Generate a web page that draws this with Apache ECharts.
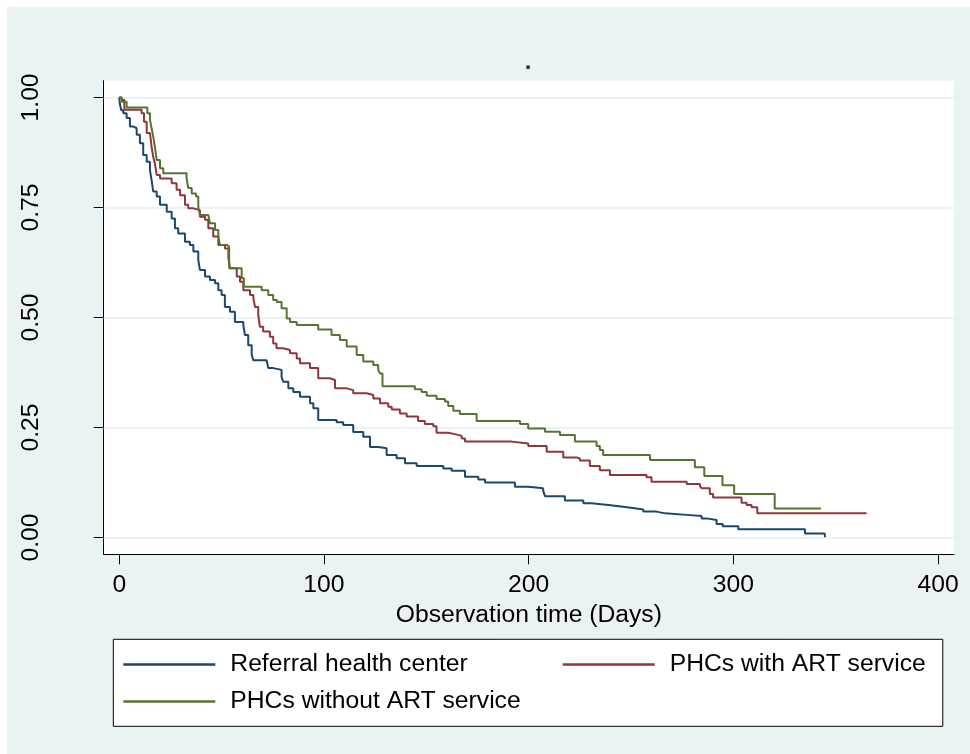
<!DOCTYPE html>
<html>
<head>
<meta charset="utf-8">
<script src="https://cdn.jsdelivr.net/npm/echarts@6/dist/echarts.min.js"></script>
<style>
html,body{margin:0;padding:0;background:#fff;}
#chart{width:970px;height:754px;}
</style>
</head>
<body>
<div id="chart"></div>
<script>
// ---- data (Kaplan-Meier step points: time in days, survival) ----
const seriesNames = ["Referral health center", "PHCs with ART service", "PHCs without ART service"];

const referralT = [0,0.3,1,2,3.6,5.2,6.8,8.5,10.1,11.7,13.4,15,15.8,16.6,18.3,19.9,23.2,25.6,27.2,28.8,32.1,34.5,36.2,38.6,39.4,41.9,44.3,46.8,48.4,50,51.6,54.1,56.5,60.6,61.4,63,64.7,65.5,72,72.8,75.2,79.3,80.1,82.6,85,88.3,93.2,94.8,97.2,106.2,109.4,114.3,119.2,122.5,126.5,130.6,135.5,139.6,145.3,158.3,162.4,168.9,175.4,178.7,193.3,199.8,207.1,208,217.7,226.7,230.8,238.9,246.2,252.7,256,262.5,266.6,278.8,284.5,287,291.8,294.8,302.4,335,344.6,344.8];
const referralS = [1,0.985,0.971,0.964,0.953,0.934,0.93,0.915,0.896,0.869,0.854,0.835,0.812,0.786,0.775,0.756,0.74,0.725,0.703,0.691,0.672,0.665,0.65,0.631,0.608,0.593,0.585,0.578,0.562,0.551,0.524,0.513,0.49,0.483,0.46,0.437,0.415,0.403,0.4,0.385,0.381,0.365,0.354,0.339,0.331,0.32,0.305,0.294,0.267,0.262,0.256,0.24,0.229,0.206,0.203,0.1875,0.18,0.169,0.1625,0.157,0.152,0.138,0.132,0.125,0.1155,0.112,0.106,0.094,0.084,0.078,0.074,0.07,0.066,0.064,0.059,0.055,0.051,0.049,0.0436,0.04,0.031,0.026,0.019,0.0095,0.0095,0.001];

const withArtT = [0,1.2,2.5,10.9,12.1,13.4,15,15.8,16.6,17.4,18.3,19.9,25.6,28,29.7,32.1,33.7,36.2,39.4,41.9,43.5,45.9,48.4,51.6,53.3,54.1,57.4,59,60.6,63.9,65.5,66.3,67.9,68.7,70.3,73.6,75.2,76.8,80.1,83.4,86.7,88.3,93.2,97.2,102.9,105.4,111.1,114.3,120.9,124.1,127.4,131.4,133.1,137.1,140.4,146,149.3,153.4,155,160.7,164,167.3,168.9,191.7,199.8,208.8,216.9,223.4,225,229.9,234.8,239.7,257.6,260,277.2,283.7,284.5,288.5,290.1,304,306.5,308.9,311.7,365.1];
const withArtS = [1,0.994,0.972,0.964,0.945,0.919,0.915,0.888,0.865,0.85,0.824,0.816,0.805,0.79,0.778,0.756,0.748,0.744,0.729,0.722,0.703,0.684,0.665,0.657,0.635,0.612,0.593,0.581,0.562,0.551,0.545,0.524,0.506,0.479,0.468,0.456,0.441,0.43,0.426,0.419,0.407,0.396,0.385,0.362,0.358,0.339,0.335,0.328,0.324,0.316,0.305,0.297,0.291,0.282,0.275,0.265,0.258,0.253,0.238,0.235,0.231,0.225,0.218,0.214,0.208,0.195,0.182,0.18,0.175,0.1625,0.153,0.142,0.137,0.127,0.122,0.117,0.112,0.099,0.091,0.079,0.074,0.069,0.055,0.055];

const withoutArtT = [0,1.2,3.6,13.7,15,15.8,16.6,17.4,18.3,19.9,21.5,32.9,33.7,35.4,37.5,38.6,39.4,43.5,44.3,46.8,48.4,49.2,52.5,53.7,59.8,60.9,69.6,72.8,75.2,77,79.3,81.8,83.4,86.7,97.2,103.7,107.8,111.1,116,119.2,124.1,126.5,127.4,128.6,144.4,147.7,150.2,155,159.1,160.7,163.2,166.4,174.6,195.8,199.8,208,215.3,222.6,233.2,234.8,236.4,259.3,281.2,285.8,294.7,300.4,320.2,342.8];
const withoutArtS = [1,0.99,0.977,0.964,0.949,0.93,0.911,0.888,0.858,0.839,0.828,0.816,0.794,0.782,0.775,0.752,0.733,0.729,0.714,0.699,0.684,0.665,0.661,0.612,0.589,0.57,0.562,0.551,0.54,0.535,0.521,0.498,0.49,0.483,0.473,0.46,0.449,0.434,0.415,0.4,0.392,0.381,0.373,0.344,0.337,0.331,0.322,0.315,0.309,0.299,0.288,0.281,0.265,0.258,0.248,0.2405,0.233,0.218,0.208,0.199,0.1875,0.176,0.1595,0.14,0.119,0.099,0.066,0.066];

const xTicks = [0, 100, 200, 300, 400];
const yTicks = [0, 0.25, 0.5, 0.75, 1];
const xTitle = "Observation time (Days)";
const titleText = ".";

// ---- build ----
const colors = ["#1a476f", "#90353b", "#55752f"];
const zip = (t, s) => t.map((v, i) => [v, s[i]]);
const allData = [zip(referralT, referralS), zip(withArtT, withArtS), zip(withoutArtT, withoutArtS)];

const FONT = "'Liberation Sans', Arial, sans-serif";
const FS = 24.7;
const chart = echarts.init(document.getElementById('chart'), null, {renderer: 'canvas'});

const series = allData.map((d, i) => ({
  name: seriesNames[i],
  type: 'line',
  step: 'end',
  data: d,
  showSymbol: false,
  symbol: 'none',
  z: 3,
  color: colors[i],
  lineStyle: {width: 2, color: colors[i]},
  animation: false
}));
series[0].markLine = {
  silent: true,
  symbol: 'none',
  z: 1,
  label: {show: false},
  animation: false,
  lineStyle: {color: '#EAF2F3', width: 2, type: 'solid'},
  data: yTicks.map(v => ({yAxis: v}))
};

const option = {
  backgroundColor: '#ffffff',
  animation: false,
  textStyle: {fontFamily: FONT},
  graphic: [
    {type: 'rect', z: -10, silent: true, shape: {x: 7, y: 7, width: 963, height: 747}, style: {fill: '#EAF2F3'}},
    {type: 'text', z: 10, x: 528, y: 74, style: {text: titleText, fill: '#1e2f5c', font: 'bold 24px ' + FONT, align: 'center', verticalAlign: 'bottom'}}
  ],
  grid: {
    left: 103.7, right: 16, top: 80.7, bottom: 199.7,
    show: true, backgroundColor: '#ffffff', borderWidth: 0,
    containLabel: false, outerBoundsMode: 'none'
  },
  xAxis: {
    type: 'value', min: -7.6, max: 407.8,
    name: xTitle, nameLocation: 'middle', nameGap: 44,
    nameTextStyle: {fontSize: FS, color: '#000', fontFamily: FONT},
    axisLine: {show: true, onZero: false, lineStyle: {color: '#000', width: 1}},
    axisTick: {show: true, customValues: xTicks, length: 10, inside: false, lineStyle: {color: '#000'}},
    axisLabel: {show: true, customValues: xTicks, margin: 18, fontSize: FS, color: '#000', fontFamily: FONT, formatter: v => String(Math.round(v))},
    splitLine: {show: false}
  },
  yAxis: {
    type: 'value', min: -0.038, max: 1.038,
    axisLine: {show: true, onZero: false, lineStyle: {color: '#000', width: 1}},
    axisTick: {show: true, customValues: yTicks, length: 10, inside: false, lineStyle: {color: '#000'}},
    axisLabel: {show: true, customValues: yTicks, rotate: 90, margin: 60, fontSize: FS, color: '#000', fontFamily: FONT, formatter: v => v.toFixed(2)},
    splitLine: {show: false}
  },
  legend: {
    show: true,
    left: 113.3, top: 639.3,
    width: 820,
    orient: 'horizontal',
    icon: 'rect',
    itemWidth: 92, itemHeight: 2.5,
    itemGap: 12,
    padding: [12.7, 17, 12.3, 10],
    backgroundColor: '#ffffff',
    borderColor: '#000', borderWidth: 1, borderRadius: 0,
    selectedMode: false,
    textStyle: {fontSize: FS, color: '#000', fontFamily: FONT, lineHeight: 24, padding: [0, 0, 0, 10]},
    data: [
      {name: seriesNames[0], textStyle: {padding: [0, 83, 0, 10]}},
      {name: seriesNames[1]},
      {name: seriesNames[2]}
    ]
  },
  series: series
};
chart.setOption(option);
</script>
</body>
</html>
